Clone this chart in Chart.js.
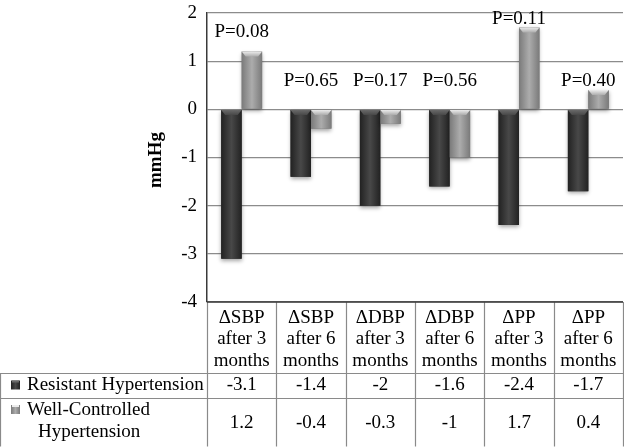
<!DOCTYPE html>
<html>
<head>
<meta charset="utf-8">
<script src="https://cdn.jsdelivr.net/npm/chart.js@4.4.1/dist/chart.umd.min.js"></script>
<style>
html,body{margin:0;padding:0;background:#fff;}
#wrap{width:624px;height:447px;position:relative;}
</style>
</head>
<body>
<div id="wrap"><canvas id="c" width="624" height="447"></canvas></div>
<script>
// ---- data ----
const categories = [
  ["\u0394SBP","after 3","months"],
  ["\u0394SBP","after 6","months"],
  ["\u0394DBP","after 3","months"],
  ["\u0394DBP","after 6","months"],
  ["\u0394PP","after 3","months"],
  ["\u0394PP","after 6","months"]
];
const resistant = [-3.1, -1.4, -2, -1.6, -2.4, -1.7];
const wellControlled = [1.2, -0.4, -0.3, -1, 1.7, 0.4];
const resistantLabels = ["-3.1","-1.4","-2","-1.6","-2.4","-1.7"];
const wellControlledLabels = ["1.2","-0.4","-0.3","-1","1.7","0.4"];
const seriesNames = [["Resistant Hypertension"], ["Well-Controlled","Hypertension"]];
const pValues = ["P=0.08","P=0.65","P=0.17","P=0.56","P=0.11","P=0.40"];
const pLabelAt = [1.6, 0.58, 0.58, 0.58, 1.87, 0.58];
const yTicks = [2, 1, 0, -1, -2, -3, -4];
const yTitle = "mmHg";

const FONT = "'Liberation Serif','Times New Roman',serif";
const FS = 19;
const palette = [
  {base:'#383838', edge:'#222222', mid:'#484848', bevel:'#6a6a6a'},
  {base:'#9a9a9a', edge:'#7a7a7a', mid:'#acacac', bevel:'#ececec'}
];

function barGradient(ctx, l, r, p){
  const g = ctx.createLinearGradient(l, 0, r, 0);
  g.addColorStop(0, p.edge);
  g.addColorStop(0.5, p.mid);
  g.addColorStop(1, p.edge);
  return g;
}

const barStyle = {
  id: 'barStyle',
  afterDatasetsDraw(chart){
    const ctx = chart.ctx;
    chart.data.datasets.forEach((ds, di) => {
      const meta = chart.getDatasetMeta(di);
      const p = palette[di];
      meta.data.forEach(el => {
        const l = el.x - el.width/2, r = el.x + el.width/2;
        const t = Math.min(el.y, el.base), b = Math.max(el.y, el.base);
        ctx.save();
        ctx.shadowColor = 'rgba(0,0,0,0.35)';
        ctx.shadowBlur = 4;
        ctx.shadowOffsetY = 2;
        ctx.fillStyle = barGradient(ctx, l, r, p);
        ctx.fillRect(l, t, r - l, b - t);
        ctx.restore();
        const bh = Math.min(5, (b - t) / 2);
        ctx.save();
        const g = ctx.createLinearGradient(0, t, 0, t + bh);
        g.addColorStop(0, p.bevel);
        g.addColorStop(1, p.mid);
        ctx.fillStyle = g;
        ctx.beginPath();
        ctx.moveTo(l, t); ctx.lineTo(r, t); ctx.lineTo(r - 4, t + bh); ctx.lineTo(l + 4, t + bh); ctx.closePath();
        ctx.fill();
        ctx.restore();
      });
    });
  }
};

const extras = {
  id: 'extras',
  afterDraw(chart){
    const ctx = chart.ctx;
    const ca = chart.chartArea;
    const xs = chart.scales.x, ys = chart.scales.y;
    const n = categories.length;
    ctx.save();
    ctx.font = FS + 'px ' + FONT;
    ctx.fillStyle = '#000';
    ctx.textAlign = 'center';
    ctx.textBaseline = 'middle';
    pValues.forEach((txt, i) => {
      const w = ctx.measureText(txt).width;
      let x = xs.getPixelForValue(i);
      x = Math.max(x, ca.left + w/2 + 2);
      ctx.fillText(txt, x, ys.getPixelForValue(pLabelAt[i]));
    });
    ctx.restore();

    ctx.save();
    ctx.font = 'bold ' + FS + 'px ' + FONT;
    ctx.fillStyle = '#000';
    ctx.translate(156, 160);
    ctx.rotate(-Math.PI/2);
    ctx.textAlign = 'center';
    ctx.textBaseline = 'middle';
    ctx.fillText(yTitle, 0, 0);
    ctx.restore();

    const top = ca.bottom, hdrB = 373, r1B = 398, r2B = 446.5;
    const bounds = [];
    for (let i = 0; i <= n; i++) {
      if (i === 0) bounds.push(ca.left);
      else if (i === n) bounds.push(ca.right);
      else bounds.push((xs.getPixelForValue(i - 1) + xs.getPixelForValue(i)) / 2);
    }
    ctx.save();
    ctx.strokeStyle = '#8a8a8a';
    ctx.lineWidth = 1.2;
    ctx.beginPath();
    bounds.forEach(bx => { const x = Math.round(bx) + 0.5; ctx.moveTo(x, top); ctx.lineTo(x, r2B); });
    [hdrB, r1B, r2B].forEach(y => { const yy = Math.round(y) + 0.5; ctx.moveTo(0.5, yy); ctx.lineTo(ca.right + 0.5, yy); });
    ctx.moveTo(0.5, hdrB); ctx.lineTo(0.5, r2B);
    ctx.stroke();
    ctx.strokeStyle = '#3a3a3a';
    ctx.lineWidth = 1.5;
    ctx.beginPath();
    ctx.moveTo(ca.left, ca.bottom); ctx.lineTo(ca.right, ca.bottom);
    ctx.stroke();
    ctx.restore();

    ctx.save();
    ctx.font = FS + 'px ' + FONT;
    ctx.fillStyle = '#000';
    ctx.textAlign = 'center';
    ctx.textBaseline = 'middle';
    categories.forEach((lines, i) => {
      const cx = xs.getPixelForValue(i);
      lines.forEach((ln, k) => ctx.fillText(ln, cx, top + 16 + k * 21.5));
      ctx.fillText(resistantLabels[i], cx, (hdrB + r1B) / 2);
      ctx.fillText(wellControlledLabels[i], cx, (r1B + r2B) / 2 + 1);
    });
    ctx.textAlign = 'left';
    ctx.fillText(seriesNames[0][0], 27, (hdrB + r1B) / 2);
    ctx.fillText(seriesNames[1][0], 27, r1B + 12);
    ctx.fillText(seriesNames[1][1], 38, r1B + 34);
    [[(hdrB + r1B) / 2, palette[0]], [r1B + 12, palette[1]]].forEach(([cy, p]) => {
      const l = 11, s = 9, t = cy - 5;
      ctx.fillStyle = barGradient(ctx, l, l + s, p);
      ctx.fillRect(l, t, s, s);
      ctx.fillStyle = p.bevel;
      ctx.fillRect(l + 1, t, s - 2, 2);
    });
    ctx.restore();
  }
};

new Chart(document.getElementById('c'), {
  type: 'bar',
  data: {
    labels: categories.map(c => c.join(' ')),
    datasets: [
      {label: seriesNames[0].join(' '), data: resistant, backgroundColor: palette[0].base, borderWidth: 0},
      {label: seriesNames[1].join(' '), data: wellControlled, backgroundColor: palette[1].base, borderWidth: 0}
    ]
  },
  options: {
    responsive: false,
    animation: false,
    events: [],
    layout: {padding: {top: 13, bottom: 145, right: 1, left: 0}},
    datasets: {bar: {categoryPercentage: 0.59, barPercentage: 1}},
    plugins: {legend: {display: false}, tooltip: {enabled: false}},
    scales: {
      x: {display: false, offset: true},
      y: {
        min: -4, max: 2,
        afterFit(s){ s.width = 207; s.paddingTop = 0; s.paddingBottom = 0; },
        afterBuildTicks(s){ s.ticks = yTicks.map(v => ({value: v})); },
        ticks: {font: {family: FONT, size: FS}, color: '#000', padding: 10},
        grid: {color: '#8c8c8c', lineWidth: 1.2, drawTicks: false},
        border: {display: true, color: '#3a3a3a', width: 1.5}
      }
    }
  },
  plugins: [barStyle, extras]
});
</script>
</body>
</html>
